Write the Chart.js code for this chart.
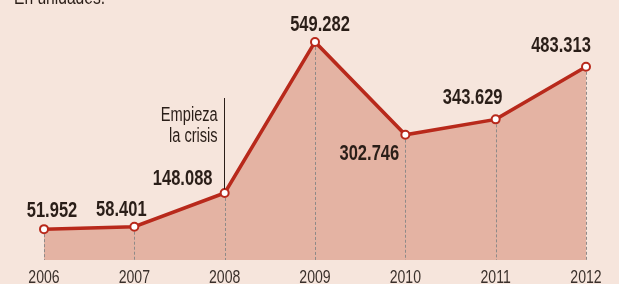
<!DOCTYPE html>
<html>
<head>
<meta charset="utf-8">
<script src="https://cdn.jsdelivr.net/npm/chart.js@4"></script>
<style>
  html, body { margin: 0; padding: 0; background: #f6e5dc; }
  canvas { display: block; }
</style>
</head>
<body>
<canvas id="ventas" width="619" height="284"></canvas>
<script>
const years = ['2006', '2007', '2008', '2009', '2010', '2011', '2012'];
const units = [51952, 58401, 148088, 549282, 302746, 343629, 483313];
const valueLabels = ['51.952', '58.401', '148.088', '549.282', '302.746', '343.629', '483.313'];
// label offset from its point (dx, dy)
const labelOffsets = [[8, -18], [-13, -17], [-42, -14], [5, -17], [-36, 19], [-23, -21], [-25, -21]];

const sans = '"Liberation Sans", Arial, sans-serif';
const red = '#b8291b';
const ink = '#2a1e18';

// the original uses a condensed face; squeeze Liberation Sans horizontally
function narrowText(c, text, x, y, align, font, sx) {
    c.save();
    c.translate(x, y);
    c.scale(sx, 1);
    c.font = font;
    c.textAlign = align;
    c.fillText(text, 0, 0);
    c.restore();
}

const extras = {
    id: 'extras',
    afterDatasetDraw(chart, args) {
        // dashed drops, drawn over the fill and under the line
        if (args.index !== 1) return;
        const c = chart.ctx;
        const pts = chart.getDatasetMeta(0).data;
        c.save();
        c.strokeStyle = '#8f8a88';
        c.lineWidth = 1;
        c.setLineDash([3, 2]);
        pts.forEach(p => {
            c.beginPath();
            c.moveTo(Math.round(p.x) + 0.5, p.y);
            c.lineTo(Math.round(p.x) + 0.5, chart.chartArea.bottom);
            c.stroke();
        });
        c.restore();
    },
    afterDraw(chart) {
        const c = chart.ctx;
        const pts = chart.getDatasetMeta(0).data;
        const xs = chart.scales.x;
        c.save();
        c.fillStyle = ink;
        c.textBaseline = 'middle';
        pts.forEach((p, i) => {
            narrowText(c, valueLabels[i], p.x + labelOffsets[i][0], p.y + labelOffsets[i][1],
                'center', 'bold 22px ' + sans, 0.75);
        });

        // year ticks
        c.fillStyle = '#3a302b';
        c.textBaseline = 'alphabetic';
        years.forEach((y, i) => {
            narrowText(c, y, xs.getPixelForTick(i), 283, 'center', '19px ' + sans, 0.74);
        });

        // "Empieza la crisis" note
        const p = pts[2];
        c.fillStyle = ink;
        c.strokeStyle = ink;
        c.lineWidth = 1;
        c.beginPath();
        c.moveTo(Math.round(p.x) - 0.5, 98);
        c.lineTo(Math.round(p.x) - 0.5, p.y - 4);
        c.stroke();
        narrowText(c, 'Empieza', p.x - 7, 121, 'right', '20px ' + sans, 0.73);
        narrowText(c, 'la crisis', p.x - 7, 142, 'right', '20px ' + sans, 0.73);

        // cut-off subtitle
        narrowText(c, 'En unidades.', 14, 4, 'left', '20px ' + sans, 0.78);
        c.restore();
    }
};

new Chart(document.getElementById('ventas').getContext('2d'), {
    type: 'line',
    data: {
        labels: years,
        datasets: [{
            data: units,
            borderColor: red,
            borderWidth: 3.5,
            fill: false,
            tension: 0,
            pointRadius: 4,
            pointBorderWidth: 2,
            pointBackgroundColor: '#ffffff',
            pointBorderColor: red
        }, {
            data: units,
            borderWidth: 0,
            backgroundColor: '#e4b3a3',
            fill: 'start',
            tension: 0,
            pointRadius: 0
        }]
    },
    options: {
        responsive: false,
        animation: false,
        events: [],
        layout: {
            padding: { left: 44, right: 33, top: 20, bottom: 24 }
        },
        plugins: {
            legend: { display: false },
            tooltip: { enabled: false }
        },
        scales: {
            x: {
                display: false,
                offset: false
            },
            y: {
                display: false,
                min: -30000,
                max: 607600
            }
        }
    },
    plugins: [extras]
});
</script>
</body>
</html>
